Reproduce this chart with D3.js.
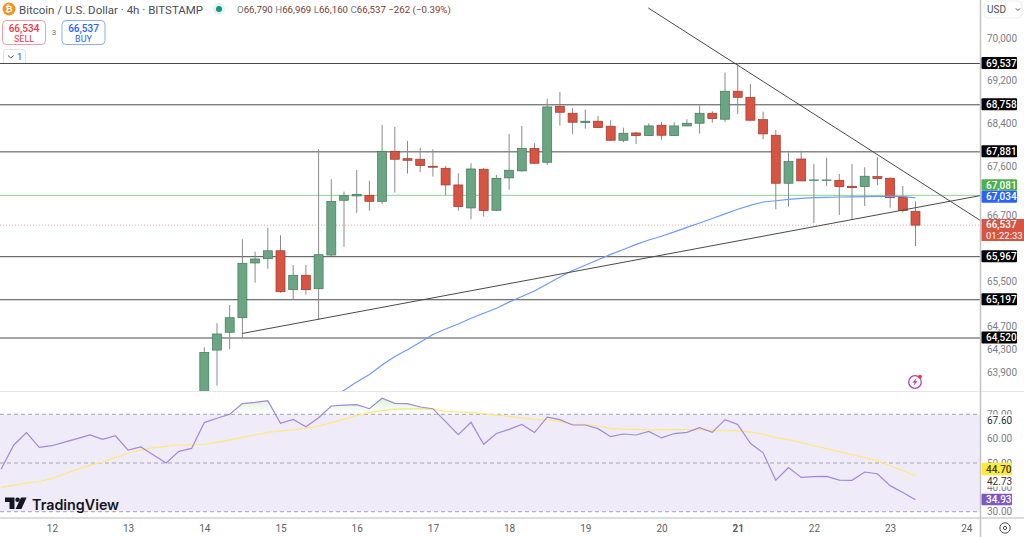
<!DOCTYPE html>
<html>
<head>
<meta charset="utf-8">
<script src="https://cdn.jsdelivr.net/npm/d3@7"></script>
<style>
  html, body { margin: 0; padding: 0; background: #fff; overflow: hidden; }
  svg { display: block; font-family: Roboto, sans-serif; }
</style>
</head>
<body>
<div id="chart"></div>
<script>
// candles, 4h each, index 0 is the first candle of the 14th
const open = [63120,64308,64621,64878,65854,65931,66074,65376,65634,65393,65997,66990,67069,67081,66971,67891,67755,67744,67615,67578,67271,66850,67560,66808,67400,67529,67946,67688,68730,68600,68424,68451,68357,68096,68232,68182,68376,68182,68363,68413,68600,68488,69013,68899,68480,68189,67302,67749,67357,67357,67357,67247,67240,67424,67394,67050,66790];
const high = [64356,64780,65103,66281,66056,66487,66354,65818,65818,67928,67376,67148,67547,67350,68382,68344,68083,67958,67928,67621,67486,67670,67584,67455,68214,68363,68040,68873,69000,68693,68667,68549,68469,68331,68251,68413,68437,68431,68488,68742,68637,69364,69546,69151,68630,68288,67902,67902,67657,67773,67473,67657,67597,67781,67413,67253,66969];
const low = [63050,63686,64326,64515,65501,65752,65322,65204,65287,64838,65979,66147,66764,66801,66922,67129,67479,67505,67424,67087,66801,66644,66692,66795,67185,67516,67657,67639,68368,68208,68312,68320,68083,68059,68027,68176,68107,68176,68357,68219,68424,68437,68587,68462,68115,66826,66873,67339,66572,67253,66723,66632,66887,67265,66855,66764,66160];
const close = [64268,64591,64878,65849,65926,66074,65340,65634,65376,66003,66971,67074,67100,66971,67891,67744,67725,67626,67597,67271,66873,67565,66801,67394,67541,67946,67670,68718,68618,68432,68451,68331,68096,68227,68182,68363,68189,68363,68413,68600,68499,69013,68899,68469,68214,67302,67707,67345,67363,67363,67240,67221,67431,67387,67037,66801,66537];

// moving average, starts at candle 10
const maStart = 10;
const maValues = [63472,63606,63751,63879,64047,64195,64313,64444,64582,64679,64767,64869,64958,65046,65155,65254,65352,65478,65603,65719,65813,65913,66008,66096,66190,66269,66336,66414,66496,66577,66659,66741,66826,66896,66959,66982,67006,67026,67037,67045,67050,67052,67058,67063,67065,67059,67034];

// rsi pane, starts 16 candles before the 14th
const rsiStart = -16;
const rsiValues = [47.4,57.4,62.5,56.4,57.1,58.6,60,61.5,59.7,61.2,55.3,56.6,53.3,50,54.8,56,66.6,68.4,70,74.4,74.9,75.6,66.3,67.9,64.9,68.6,73.4,73.8,74,72.3,76.6,74.5,74.4,73,72.3,67,61.6,66.7,57.7,62.1,63.8,65.8,62.5,68.8,67.8,65.6,65.6,64.1,60.8,61.9,61.5,63,60.3,62.1,62.6,64.5,62.6,67.8,65.8,58.1,54.2,42.9,48.1,44.1,44.4,44.5,43,42.9,46.3,45.6,40.7,37.9,34.93];
const rsiMaValues = [40,40.8,41.8,42.3,43.7,45.6,47.4,49,50.4,52.2,54,55.3,56.3,56.8,57.4,57.4,57.7,58.5,59.5,60.5,61.5,62.6,63.2,63.6,64.2,65.2,66.6,67.9,69.5,70.7,71.5,72.1,72.2,72.2,72.1,71.2,71,70.8,70.3,69.7,69.2,68.5,67.9,67.7,67,66,65.9,65.2,64.2,63.8,63.8,63.6,63.7,63.7,63.7,63.6,63.4,63.3,63.3,62.7,61.9,60.4,59.6,58.4,57.1,55.9,54.7,53.4,52.2,51,49,46.8,44.7];

const dayLabels = [12,13,14,15,16,17,18,19,20,21,22,23,24];
const priceTicks = [70000,69200,68400,67600,66700,65500,64700,64300,63900];
const rsiTicks = [70,60,50,40,30];
const rsiBands = [70,50,30];
const levels = [69537,68758,67881,65967,65197,64520];
const greenLevel = 67081;
const lastPrice = 66537;

// trend lines as [candle index, price]
const trendUp = [[3,64600],[61.16,67078]];
const trendDown = [[34.96,70598],[61.16,66614]];

var width = 1024, height = 537;
var plotRight = 980.5, paneBottom = 391, rsiBottom = 518;

var x = d3.scaleLinear().domain([0,56]).range([204.3,915.5]);
var y = d3.scaleLog().domain([69537,64520]).range([63.5,338]);
var yRsi = d3.scaleLinear().domain([70,30]).range([414.3,511.7]);

var svg = d3.select("#chart").append("svg")
    .attr("width", width)
    .attr("height", height);

var defs = svg.append("defs");
defs.append("clipPath").attr("id", "priceClip").append("rect")
    .attr("x", 0).attr("y", 0).attr("width", plotRight).attr("height", paneBottom);
defs.append("clipPath").attr("id", "rsiClip").append("rect")
    .attr("x", 0).attr("y", paneBottom).attr("width", plotRight).attr("height", rsiBottom - paneBottom);
defs.append("clipPath").attr("id", "overClip").append("rect")
    .attr("x", 0).attr("y", paneBottom).attr("width", plotRight).attr("height", yRsi(70) - paneBottom);
var grad = defs.append("linearGradient").attr("id", "overGrad")
    .attr("gradientUnits", "userSpaceOnUse")
    .attr("x1", 0).attr("y1", yRsi(77)).attr("x2", 0).attr("y2", yRsi(70));
grad.append("stop").attr("offset", "0%").attr("stop-color", "#4caf50").attr("stop-opacity", 0.2);
grad.append("stop").attr("offset", "100%").attr("stop-color", "#4caf50").attr("stop-opacity", 0);

// price pane
var price = svg.append("g").attr("clip-path", "url(#priceClip)");

price.selectAll(".level")
    .data(levels)
    .enter().append("line")
    .attr("class", "level")
    .attr("x1", 0).attr("x2", plotRight)
    .attr("y1", d => y(d)).attr("y2", d => y(d))
    .attr("stroke", "#4a4a4a").attr("stroke-width", 1);

price.append("line")
    .attr("x1", 0).attr("x2", plotRight)
    .attr("y1", y(greenLevel)).attr("y2", y(greenLevel))
    .attr("stroke", "#8fcf92").attr("stroke-width", 1);

price.append("line")
    .attr("x1", 0).attr("x2", plotRight)
    .attr("y1", y(lastPrice)).attr("y2", y(lastPrice))
    .attr("stroke", "#e9a79e").attr("stroke-width", 1).attr("stroke-dasharray", "1,2");

var candles = price.selectAll(".candle")
    .data(open.map((d, i) => i))
    .enter().append("g")
    .attr("class", "candle");

candles.append("line")
    .attr("x1", i => x(i)).attr("x2", i => x(i))
    .attr("y1", i => y(high[i])).attr("y2", i => y(low[i]))
    .attr("stroke", "#8a8a8c").attr("stroke-width", 1);

candles.append("rect")
    .attr("x", i => x(i) - 4.5)
    .attr("width", 9)
    .attr("y", i => y(Math.max(open[i], close[i])))
    .attr("height", i => Math.max(0.5, Math.abs(y(open[i]) - y(close[i]))))
    .attr("fill", i => close[i] >= open[i] ? "#6ba583" : "#d75442")
    .attr("stroke", i => close[i] >= open[i] ? "#3f7a59" : "#9c3a2c")
    .attr("stroke-width", 0.7);

var maLine = d3.line()
    .x((d, i) => x(i + maStart))
    .y(d => y(d));

price.append("path")
    .datum(maValues)
    .attr("d", maLine)
    .attr("fill", "none")
    .attr("stroke", "#6f9bf7").attr("stroke-width", 1.2);

var trendLine = d3.line().x(d => x(d[0])).y(d => y(d[1]));
[trendUp, trendDown].forEach(function (t) {
    price.append("path")
        .datum(t)
        .attr("d", trendLine)
        .attr("fill", "none")
        .attr("stroke", "#4a4a4a").attr("stroke-width", 1);
});

// lightning badge
var badge = svg.append("g").attr("transform", "translate(915,382)");
badge.append("circle").attr("r", 6.3).attr("fill", "#fff")
    .attr("stroke", "#ab47bc").attr("stroke-width", 1.3);
badge.append("path").attr("d", "M1.5,-4 L-2.5,0.8 L-0.3,0.8 L-1.5,4 L2.5,-0.8 L0.3,-0.8 Z").attr("fill", "#ab47bc");
badge.append("circle").attr("cx", 5).attr("cy", -5.3).attr("r", 1.9).attr("fill", "#f23645");

// rsi pane
var rsi = svg.append("g").attr("clip-path", "url(#rsiClip)");

rsi.append("rect")
    .attr("x", 0).attr("width", plotRight)
    .attr("y", yRsi(70)).attr("height", yRsi(30) - yRsi(70))
    .attr("fill", "#f0ebf8");

rsi.selectAll(".band")
    .data(rsiBands)
    .enter().append("line")
    .attr("x1", 0).attr("x2", plotRight)
    .attr("y1", d => yRsi(d)).attr("y2", d => yRsi(d))
    .attr("stroke", "#a5a5ad").attr("stroke-width", 1).attr("stroke-dasharray", "4,3");

var rsiX = (d, i) => x(i + rsiStart);

var overArea = d3.area().x(rsiX).y0(yRsi(70)).y1(d => yRsi(d));
svg.append("g").attr("clip-path", "url(#overClip)")
    .append("path")
    .datum(rsiValues)
    .attr("d", overArea)
    .attr("fill", "url(#overGrad)");

rsi.append("path")
    .datum(rsiMaValues)
    .attr("d", d3.line().x(rsiX).y(d => yRsi(d)))
    .attr("fill", "none")
    .attr("stroke", "#ffe97a").attr("stroke-width", 1.2);

rsi.append("path")
    .datum(rsiValues)
    .attr("d", d3.line().x(rsiX).y(d => yRsi(d)))
    .attr("fill", "none")
    .attr("stroke", "#a288dc").attr("stroke-width", 1.2);

// tradingview logo
var logo = svg.append("g").attr("transform", "translate(5,497.5)").attr("fill", "#131722");
logo.append("path").attr("d", "M0,0 H9.5 V11.5 H4.5 V4.5 H0 Z");
logo.append("circle").attr("cx", 12.6).attr("cy", 2.3).attr("r", 2.3);
logo.append("path").attr("d", "M16,0 H21.6 L16.4,11.5 H10.6 Z");
logo.append("text").attr("x", 27).attr("y", 12)
    .attr("font-family", "Inter, sans-serif")
    .attr("font-size", 14.3).attr("font-weight", 600)
    .text("TradingView");

// separators
svg.append("line").attr("x1", 0).attr("x2", width).attr("y1", paneBottom + 0.5).attr("y2", paneBottom + 0.5)
    .attr("stroke", "#e6e6e6").attr("stroke-width", 1);
svg.append("line").attr("x1", 0).attr("x2", width).attr("y1", rsiBottom).attr("y2", rsiBottom)
    .attr("stroke", "#b9b9b9").attr("stroke-width", 1);
svg.append("line").attr("x1", plotRight).attr("x2", plotRight).attr("y1", 0).attr("y2", height)
    .attr("stroke", "#c4c4c4").attr("stroke-width", 1.5);

// axes
var xAxis = d3.axisBottom(x)
    .tickValues(dayLabels.map(d => (d - 14) * 6))
    .tickFormat(d => d / 6 + 14)
    .tickSize(0).tickPadding(0);
var xg = svg.append("g").attr("transform", "translate(0,525)").call(xAxis);
xg.select(".domain").remove();
xg.selectAll("text").attr("font-size", 10).attr("fill", "#5c5f6a").attr("font-family", "Roboto, sans-serif")
    .attr("font-weight", d => d == 42 ? 700 : 400);

var yAxis = d3.axisRight(y).tickValues(priceTicks).tickFormat(d3.format(",")).tickSize(0).tickPadding(0);
var yg = svg.append("g").attr("transform", "translate(987,-1)").call(yAxis);
yg.select(".domain").remove();
yg.selectAll("text").attr("font-size", 10).attr("fill", "#7b7e88").attr("font-family", "Roboto, sans-serif");

var rsiAxis = d3.axisRight(yRsi).tickValues(rsiTicks).tickFormat(d3.format(".2f")).tickSize(0).tickPadding(0);
var rg = svg.append("g").attr("transform", "translate(987,0)").call(rsiAxis);
rg.select(".domain").remove();
rg.selectAll("text").attr("font-size", 10).attr("fill", "#7b7e88").attr("font-family", "Roboto, sans-serif");

// value tags on the right
function tag(value, cy, h, w, bg, fg) {
    svg.append("rect").attr("x", 981.5).attr("y", cy - h / 2).attr("width", w).attr("height", h)
        .attr("fill", bg).attr("rx", 1);
    svg.append("text").attr("x", 986).attr("y", cy + 3.6)
        .attr("font-size", 10).attr("font-weight", 500).attr("fill", fg).text(value);
}
levels.forEach(function (d) {
    tag(d3.format(",")(d), y(d) - 0.5, 12, 35.5, "#000", "#fff");
});
tag("67,081", 185, 11.5, 35.5, "#4caf50", "#fff");
tag("67,034", 196.8, 12, 35.5, "#2962ff", "#fff");

svg.append("rect").attr("x", 981.5).attr("y", 219).attr("width", 42.5).attr("height", 22).attr("fill", "#d75442");
svg.append("text").attr("x", 986).attr("y", 227.6).attr("font-size", 10).attr("font-weight", 500).attr("fill", "#fff")
    .text(d3.format(",")(lastPrice));
svg.append("text").attr("x", 986).attr("y", 238.6).attr("font-size", 9.5).attr("fill", "#fff").text("01:22:33");

// plain value labels on top of the rsi scale
function plainLabel(value, cy) {
    svg.append("rect").attr("x", 982).attr("y", cy - 5.5).attr("width", 34).attr("height", 11).attr("fill", "#fff");
    svg.append("text").attr("x", 987).attr("y", cy + 3.6).attr("font-size", 10).attr("fill", "#2a2e39").text(value);
}
plainLabel("67.60", 420);
plainLabel("42.73", 481);
tag("44.70", 469, 12.5, 30.5, "#ffeb3b", "#3a3a20");
tag("34.93", 499.5, 11.5, 30.5, "#7e57c2", "#fff");

// header
svg.append("circle").attr("cx", 9).attr("cy", 9).attr("r", 6.5).attr("fill", "#f7931a");
svg.append("text").attr("x", 9).attr("y", 12).attr("text-anchor", "middle")
    .attr("font-size", 9).attr("font-weight", 700).attr("fill", "#fff").text("₿");
svg.append("text").attr("x", 19).attr("y", 13.5)
    .attr("font-size", 11.5).attr("fill", "#4a4e59")
    .text("Bitcoin / U.S. Dollar · 4h · BITSTAMP");
svg.append("circle").attr("cx", 219).attr("cy", 9).attr("r", 6).attr("fill", "#e3f3f0");
svg.append("circle").attr("cx", 219).attr("cy", 9).attr("r", 3).attr("fill", "#089981");

var ohlc = svg.append("text").attr("x", 237).attr("y", 12.5).attr("font-size", 9.7);
[["O","66,790"],["H","66,969"],["L","66,160"],["C","66,537"]].forEach(function (p) {
    ohlc.append("tspan").attr("fill", "#7a7d88").text(p[0]);
    ohlc.append("tspan").attr("fill", "#7a3b33").text(p[1] + " ");
});
ohlc.append("tspan").attr("fill", "#7a3b33").text("−262 (−0.39%)");

function tradeBox(bx, color, border, value, label) {
    svg.append("rect").attr("x", bx).attr("y", 20.5).attr("width", 43).attr("height", 24).attr("rx", 4)
        .attr("fill", "#fff").attr("stroke", border);
    svg.append("text").attr("x", bx + 21.5).attr("y", 32).attr("text-anchor", "middle")
        .attr("font-size", 10).attr("font-weight", 500).attr("fill", color).text(value);
    svg.append("text").attr("x", bx + 21.5).attr("y", 41.5).attr("text-anchor", "middle")
        .attr("font-size", 9).attr("fill", color).text(label);
}
tradeBox(2.5, "#f23645", "#f59aa2", "66,534", "SELL");
tradeBox(62, "#2962ff", "#8fabf9", "66,537", "BUY");
svg.append("text").attr("x", 54).attr("y", 35).attr("text-anchor", "middle")
    .attr("font-size", 8).attr("fill", "#6f727c").text("3");

svg.append("path").attr("d", "M3.5,63 V52 Q3.5,49.5 6,49.5 H23 Q25.5,49.5 25.5,52 V63")
    .attr("fill", "#fff").attr("stroke", "#e3e3e3");
svg.append("path").attr("d", "M8,55.5 L10.8,58 L13.6,55.5").attr("fill", "none").attr("stroke", "#4a4e59");
svg.append("text").attr("x", 17).attr("y", 60).attr("font-size", 9.5).attr("fill", "#4a4e59").text("1");

// currency box and settings icon
svg.append("rect").attr("x", 984).attr("y", 1).attr("width", 38).attr("height", 17).attr("rx", 4)
    .attr("fill", "#fff").attr("stroke", "#eeeeee");
svg.append("text").attr("x", 987).attr("y", 13).attr("font-size", 10).attr("fill", "#4a4e59").text("USD");
svg.append("path").attr("d", "M1016,8.5 L1018,10.5 L1020,8.5").attr("fill", "none").attr("stroke", "#4a4e59");
svg.append("circle").attr("cx", 1005).attr("cy", 528).attr("r", 5.2).attr("fill", "none").attr("stroke", "#4a4e59");
svg.append("circle").attr("cx", 1005).attr("cy", 528).attr("r", 1.6).attr("fill", "none").attr("stroke", "#4a4e59");
</script>
</body>
</html>
